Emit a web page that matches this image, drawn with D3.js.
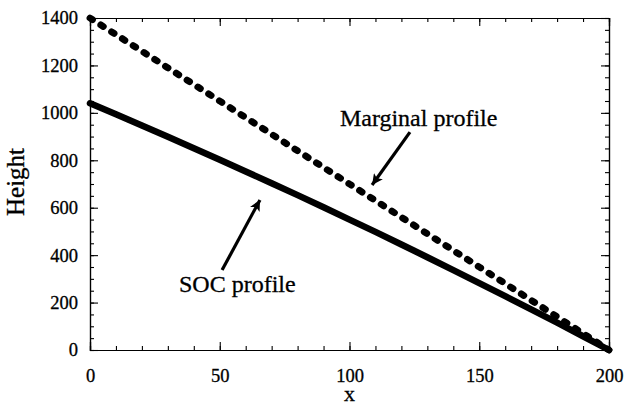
<!DOCTYPE html>
<html>
<head>
<meta charset="utf-8">
<script src="https://cdn.jsdelivr.net/npm/d3@7"></script>
<style>
  html, body { margin: 0; padding: 0; background: #fff; }
  svg text { font-family: "Liberation Serif", "Times New Roman", serif; fill: #000; stroke: #000; stroke-width: 0.3px; }
</style>
</head>
<body>
<svg id="chart" width="625" height="406"></svg>
<script>
// ---- data ----
const xValues = [0, 10, 20, 30, 40, 50, 60, 70, 80, 90, 100, 110, 120, 130, 140, 150, 160, 170, 180, 190, 200];
const socProfile = [1040, 994, 947, 899, 851, 802, 753, 703, 653, 602, 550, 498, 445, 391, 337, 282, 227, 171, 115, 58, 0];
const marginalProfile = [1400, 1330, 1260, 1190, 1120, 1050, 980, 910, 840, 770, 700, 630, 560, 490, 420, 350, 280, 210, 140, 70, 0];
const xTicks = [0, 50, 100, 150, 200];
const yTicks = [0, 200, 400, 600, 800, 1000, 1200, 1400];
const xMinorTicks = d3.range(0, 201, 10);
const yMinorTicks = d3.range(0, 1401, 50);
const labels = [
  { text: "Marginal profile", x: 96.3, y: 945, tipX: 108.7, tipY: 696, tailX: 123.3, tailY: 919 },
  { text: "SOC profile", x: 34.3, y: 245, tipX: 65.5, tipY: 633, tailX: 50.9, tailY: 337 }
];

// ---- layout ----
const svg = d3.select("#chart");
const xs = d3.scaleLinear().domain([0, 200]).range([90, 609]);
const ys = d3.scaleLinear().domain([0, 1400]).range([350, 18]);

function styleAxis(g) {
  g.select(".domain").attr("stroke", "#000").attr("stroke-width", 1.2);
  g.selectAll(".tick line").attr("stroke", "#000").attr("stroke-width", 1.1);
}
// bottom
svg.append("g").attr("class", "ax").attr("transform", `translate(0,${ys(0)})`)
  .call(d3.axisBottom(xs).tickValues(xMinorTicks).tickSize(-4).tickFormat(""));
const bottomMajor = svg.append("g").attr("class", "ax").attr("transform", `translate(0,${ys(0)})`)
  .call(d3.axisBottom(xs).tickValues(xTicks).tickSize(-8).tickPadding(19).tickFormat(d3.format("d")));
bottomMajor.selectAll("text").attr("font-size", 18.5);
// top
svg.append("g").attr("class", "ax").attr("transform", `translate(0,${ys(1400)})`)
  .call(d3.axisTop(xs).tickValues(xMinorTicks).tickSize(-4).tickFormat(""));
svg.append("g").attr("class", "ax").attr("transform", `translate(0,${ys(1400)})`)
  .call(d3.axisTop(xs).tickValues(xTicks).tickSize(-8).tickFormat(""));
// left
svg.append("g").attr("class", "ax").attr("transform", `translate(${xs(0)},0)`)
  .call(d3.axisLeft(ys).tickValues(yMinorTicks).tickSize(-4).tickFormat(""));
const leftMajor = svg.append("g").attr("class", "ax").attr("transform", `translate(${xs(0)},0)`)
  .call(d3.axisLeft(ys).tickValues(yTicks).tickSize(-8).tickPadding(12).tickFormat(d3.format("d")));
leftMajor.selectAll("text").attr("font-size", 18.5);
// right
svg.append("g").attr("class", "ax").attr("transform", `translate(${xs(200)},0)`)
  .call(d3.axisRight(ys).tickValues(yMinorTicks).tickSize(-4).tickFormat(""));
svg.append("g").attr("class", "ax").attr("transform", `translate(${xs(200)},0)`)
  .call(d3.axisRight(ys).tickValues(yTicks).tickSize(-8).tickFormat(""));

svg.selectAll("g.ax").each(function () { styleAxis(d3.select(this)); });

// axis titles
svg.append("text").attr("x", (xs(0) + xs(200)) / 2).attr("y", 401)
  .attr("text-anchor", "middle").attr("font-size", 22).text("x");
svg.append("text").attr("transform", "rotate(-90)")
  .attr("x", -(ys(0) + ys(1400)) / 2 + 2).attr("y", 24)
  .attr("text-anchor", "middle").attr("font-size", 25).text("Height");

// curves
const line = d3.line().x((d, i) => xs(xValues[i])).y(d => ys(d));
svg.append("path").datum(socProfile)
  .attr("d", line).attr("fill", "none").attr("stroke", "#000")
  .attr("stroke-width", 6.5).attr("stroke-linecap", "round").attr("stroke-linejoin", "round");
svg.append("path").datum(marginalProfile)
  .attr("d", line).attr("fill", "none").attr("stroke", "#000")
  .attr("stroke-width", 6.8).attr("stroke-linecap", "round")
  .attr("stroke-dasharray", "3,9.8");

// annotations with arrows
svg.append("defs").append("marker")
  .attr("id", "arrow").attr("viewBox", "0 0 10 10")
  .attr("refX", 10).attr("refY", 5)
  .attr("markerWidth", 4.4).attr("markerHeight", 3.4)
  .attr("markerUnits", "strokeWidth")
  .attr("orient", "auto")
  .append("path").attr("d", "M0,0 L10,5 L0,10 L2.5,5 Z").attr("fill", "#000");

labels.forEach(l => {
  svg.append("line")
    .attr("x1", xs(l.tailX)).attr("y1", ys(l.tailY))
    .attr("x2", xs(l.tipX)).attr("y2", ys(l.tipY))
    .attr("stroke", "#000").attr("stroke-width", 3.2)
    .attr("marker-end", "url(#arrow)");
  svg.append("text").attr("x", xs(l.x)).attr("y", ys(l.y))
    .attr("font-size", 24).text(l.text);
});
</script>
</body>
</html>
